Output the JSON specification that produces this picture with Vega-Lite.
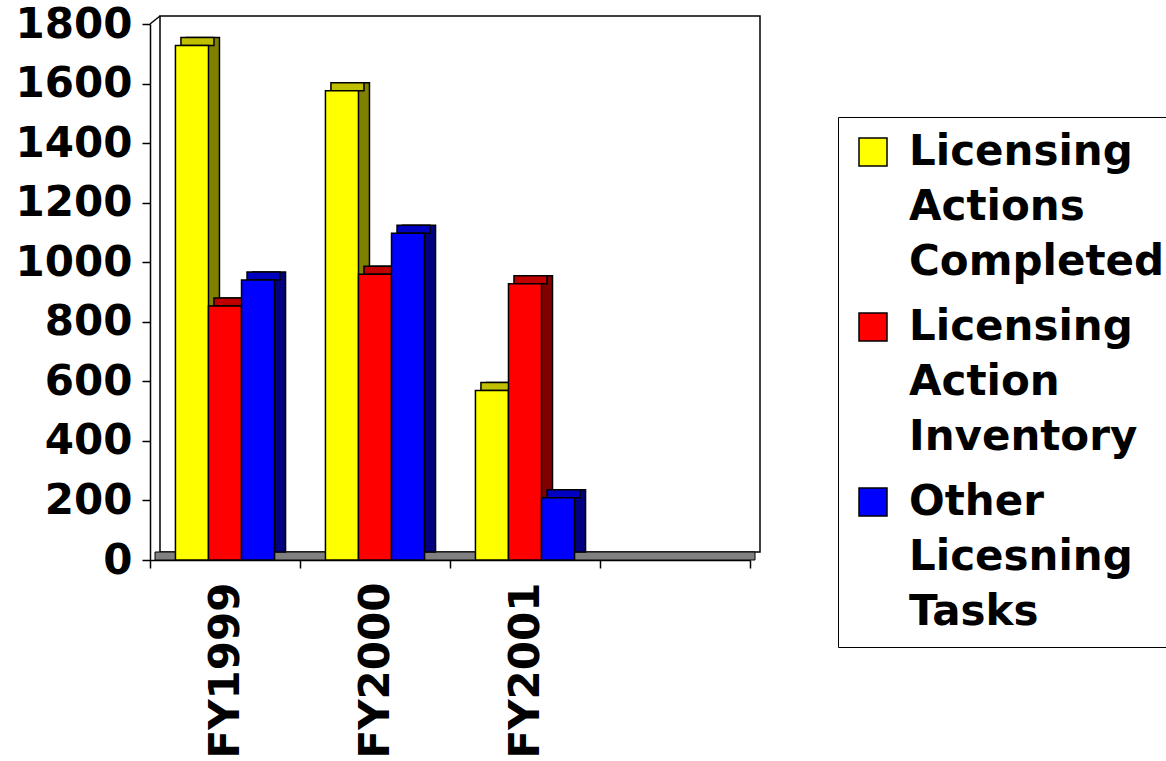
{
  "$schema": "https://vega.github.io/schema/vega-lite/v6.json",
  "width": 600,
  "height": 536,
  "autosize": {"type": "none"},
  "padding": {"left": 150, "top": 24, "right": 416, "bottom": 201},
  "background": "white",
  "config": {
    "view": {"stroke": null},
    "font": "DejaVu Sans",
    "style": {"guide-label": {"lineHeight": 55, "dy": -20}},
    "axis": {
      "labelFont": "DejaVu Sans",
      "labelFontSize": 42,
      "labelFontWeight": "bold",
      "labelColor": "black",
      "domainColor": "black",
      "domainWidth": 1.5,
      "tickColor": "black",
      "tickWidth": 1.5,
      "tickSize": 8,
      "grid": false,
      "title": null
    },
    "legend": {
      "labelFont": "DejaVu Sans",
      "labelFontSize": 42,
      "labelFontWeight": "bold",
      "labelColor": "black",
      "labelLimit": 0
    }
  },
  "data": {
    "values": [
      {"year": "FY1999", "series": "Licensing Actions Completed", "value": 1728},
      {"year": "FY1999", "series": "Licensing Action Inventory", "value": 853},
      {"year": "FY1999", "series": "Other Licesning Tasks", "value": 940},
      {"year": "FY2000", "series": "Licensing Actions Completed", "value": 1576},
      {"year": "FY2000", "series": "Licensing Action Inventory", "value": 960},
      {"year": "FY2000", "series": "Other Licesning Tasks", "value": 1097},
      {"year": "FY2001", "series": "Licensing Actions Completed", "value": 569},
      {"year": "FY2001", "series": "Licensing Action Inventory", "value": 928},
      {"year": "FY2001", "series": "Other Licesning Tasks", "value": 209}
    ]
  },
  "layer": [
    {
      "data": {"values": [{}]},
      "mark": {"type": "rect", "fill": null, "stroke": "black", "strokeWidth": 1.5, "xOffset": 10, "x2Offset": 10, "yOffset": -8, "y2Offset": -8},
      "encoding": {
        "x": {"datum": 0, "type": "quantitative", "scale": {"domain": [0, 1]}, "axis": null},
        "x2": {"datum": 1},
        "y": {"datum": 0, "type": "quantitative", "scale": {"domain": [0, 1800], "nice": false}},
        "y2": {"datum": 1800}
      }
    },
    {
      "data": {"values": [{}]},
      "mark": {"type": "rule", "stroke": "black", "strokeWidth": 1.5, "x2Offset": 10, "y2Offset": -8},
      "encoding": {
        "x": {"datum": 0, "type": "quantitative", "scale": {"domain": [0, 1]}, "axis": null},
        "x2": {"datum": 0},
        "y": {"datum": 1800, "type": "quantitative"},
        "y2": {"datum": 1800}
      }
    },
    {
      "data": {"values": [{}]},
      "mark": {"type": "rect", "fill": "#808080", "stroke": "black", "strokeWidth": 1, "xOffset": 5, "x2Offset": 5, "yOffset": 0, "y2Offset": -8},
      "encoding": {
        "x": {"datum": 0, "type": "quantitative", "scale": {"domain": [0, 1]}, "axis": null},
        "x2": {"datum": 1},
        "y": {"datum": 0, "type": "quantitative"},
        "y2": {"datum": 0}
      }
    },
    {
      "layer": [
        {
          "mark": {"type": "bar", "stroke": "black", "strokeWidth": 1.5, "yOffset": -8, "y2Offset": -8},
          "encoding": {
            "x": {"field": "year", "type": "nominal", "scale": {"domain": ["FY1999", "FY2000", "FY2001", ""], "paddingInner": 0, "paddingOuter": 0}, "axis": {"tickBand": "extent", "labelAngle": 270, "labelPadding": 14, "labelOffset": 20}},
            "xOffset": {"field": "series", "type": "nominal", "sort": ["Licensing Actions Completed", "Licensing Action Inventory", "Other Licesning Tasks"], "scale": {"paddingInner": 0, "paddingOuter": 0.77, "align": 0.716}},
            "y": {"field": "value", "type": "quantitative", "axis": {"values": [0, 200, 400, 600, 800, 1000, 1200, 1400, 1600, 1800], "format": "d", "labelPadding": 10, "labelOffset": 20}},
            "y2": {"datum": 0},
            "color": {"field": "series", "type": "nominal", "sort": ["Licensing Actions Completed", "Licensing Action Inventory", "Other Licesning Tasks"], "scale": {"range": ["#808000", "#800000", "#000080"]}, "legend": null}
          }
        },
        {
          "mark": {"type": "bar", "stroke": "black", "strokeWidth": 1.5, "yOffset": -8, "y2Offset": 0},
          "encoding": {
            "x": {"field": "year", "type": "nominal"},
            "xOffset": {"field": "series", "type": "nominal", "sort": ["Licensing Actions Completed", "Licensing Action Inventory", "Other Licesning Tasks"], "scale": {"paddingInner": 0, "paddingOuter": 0.77, "align": 0.608}},
            "y": {"field": "value", "type": "quantitative"},
            "y2": {"field": "value"},
            "color": {"field": "series", "type": "nominal", "sort": ["Licensing Actions Completed", "Licensing Action Inventory", "Other Licesning Tasks"], "scale": {"range": ["#C0C000", "#C00000", "#0000C0"]}, "legend": null}
          }
        },
        {
          "mark": {"type": "bar", "stroke": "black", "strokeWidth": 1.5},
          "encoding": {
            "x": {"field": "year", "type": "nominal"},
            "xOffset": {"field": "series", "type": "nominal", "sort": ["Licensing Actions Completed", "Licensing Action Inventory", "Other Licesning Tasks"], "scale": {"paddingInner": 0, "paddingOuter": 0.77, "align": 0.5}},
            "y": {"field": "value", "type": "quantitative"},
            "y2": {"datum": 0},
            "color": {
              "field": "series", "type": "nominal",
              "sort": ["Licensing Actions Completed", "Licensing Action Inventory", "Other Licesning Tasks"],
              "scale": {"range": ["#FFFF00", "#FF0000", "#0000FF"]},
              "legend": {
                "title": null,
                "orient": "none",
                "legendX": 688,
                "legendY": 93,
                "strokeColor": "black",
                "fillColor": "white",
                "padding": 14,
                "symbolType": "square",
                "symbolSize": 784,
                "symbolStrokeColor": "black",
                "symbolStrokeWidth": 1.5,
                "labelOffset": 15,
                "labelBaseline": "top",
                "rowPadding": 23,
                "labelExpr": "split(datum.label, ' ')"
              }
            }
          }
        }
      ],
      "resolve": {"scale": {"color": "independent", "xOffset": "independent"}}
    }
  ],
  "resolve": {"scale": {"x": "independent"}}
}
